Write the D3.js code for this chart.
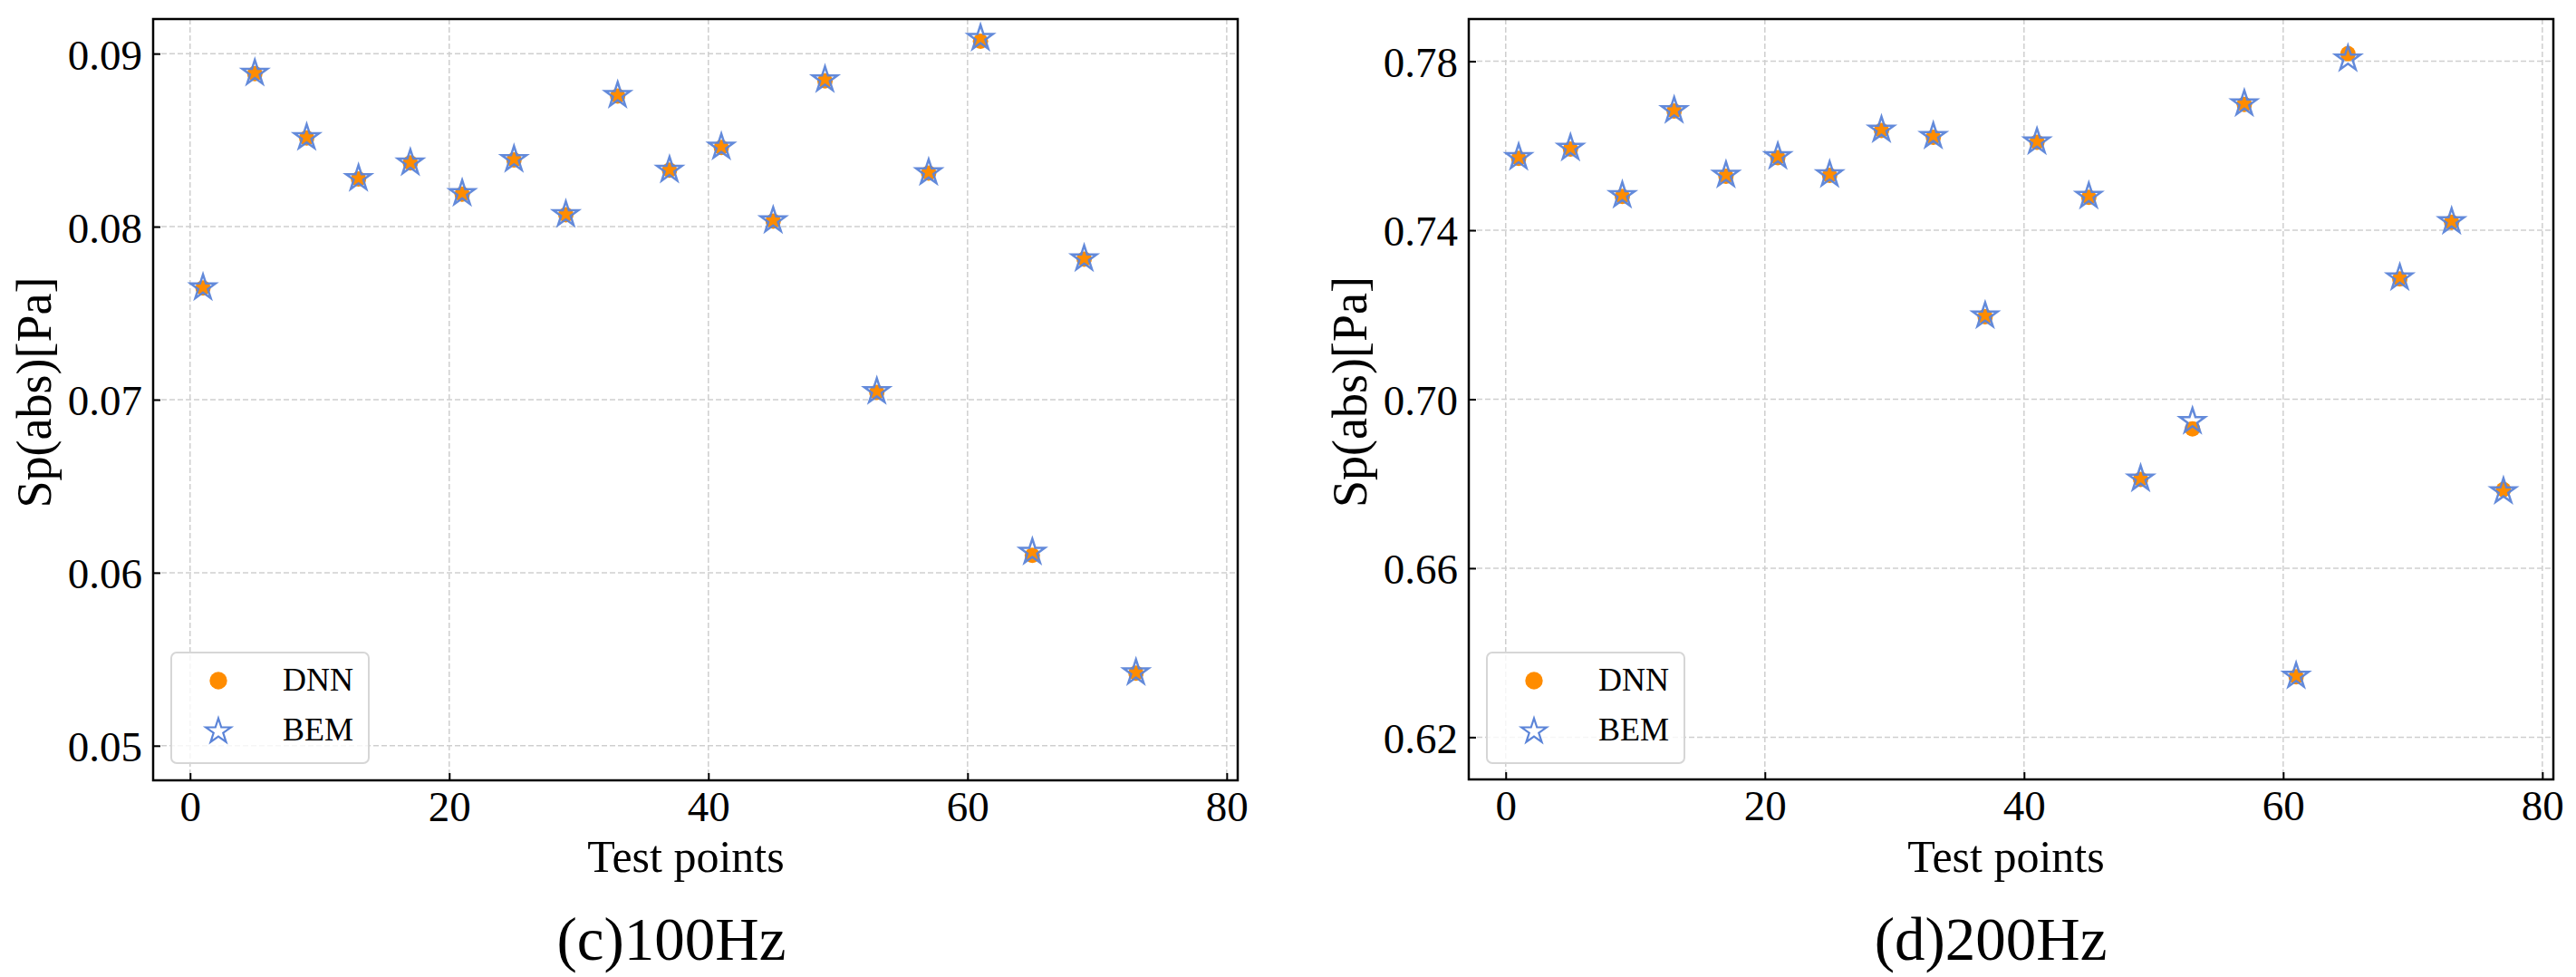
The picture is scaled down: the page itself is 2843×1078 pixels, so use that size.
<!DOCTYPE html>
<html>
<head>
<meta charset="utf-8">
<script src="https://cdn.jsdelivr.net/npm/d3@7"></script>
<style>
  html, body { margin: 0; padding: 0; background: #ffffff; }
  svg { display: block; }
  svg text { font-family: "Liberation Serif", "Times New Roman", serif !important; fill: #000; }
</style>
</head>
<body>
<svg id="chart" width="2843" height="1078"></svg>
<script>
// ---------------- DATA ----------------
const testPoints100 = [1, 5, 9, 13, 17, 21, 25, 29, 33, 37, 41, 45, 49, 53, 57, 61, 65, 69, 73];
const bem100 = [0.07648, 0.08888, 0.08516, 0.08280, 0.08370, 0.08193, 0.08390, 0.08071, 0.08760,
                0.08328, 0.08461, 0.08036, 0.08850, 0.07048, 0.08313, 0.09090, 0.06120, 0.07816, 0.05423];
const dnn100 = [0.07645, 0.08885, 0.08512, 0.08275, 0.08368, 0.08188, 0.08386, 0.08068, 0.08755,
                0.08326, 0.08458, 0.08032, 0.08843, 0.07042, 0.08310, 0.09072, 0.06100, 0.07812, 0.05420];

const testPoints200 = [1, 5, 9, 13, 17, 21, 25, 29, 33, 37, 41, 45, 49, 53, 57, 61, 65, 69, 73, 77];
const bem200 = [0.7573, 0.7595, 0.7483, 0.7684, 0.7531, 0.7575, 0.7532, 0.7638, 0.7623, 0.7198,
                0.7610, 0.7481, 0.6812, 0.6948, 0.7700, 0.6345, 0.7806, 0.7288, 0.7421, 0.6782];
const dnn200 = [0.7570, 0.7592, 0.7480, 0.7682, 0.7528, 0.7572, 0.7530, 0.7636, 0.7620, 0.7195,
                0.7608, 0.7478, 0.6810, 0.6930, 0.7698, 0.6343, 0.7818, 0.7285, 0.7419, 0.6786];

const xTicks = [0, 20, 40, 60, 80];
const yTicks100 = [0.05, 0.06, 0.07, 0.08, 0.09];
const yTicks200 = [0.62, 0.66, 0.70, 0.74, 0.78];
const seriesNames = ["DNN", "BEM"];
const panelTitles = ["(c)100Hz", "(d)200Hz"];
const xLabel = "Test points";
const yLabel = "Sp(abs)[Pa]";

// ---------------- STYLE ----------------
const FONT = '"Liberation Serif", "Times New Roman", serif';
const ORANGE = "#ff8c00";
const BLUE = "#5b84d8";
const GRID = "#cfcfcf";

const svg = d3.select("#chart");

const panels = [
  { x0: 169, x1: 1366, y0: 21, y1: 861, xDom: [-2.85, 80.85], yDom: [0.048, 0.092],
    xs: testPoints100, dnn: dnn100, bem: bem100, yTicks: yTicks100, fmt: d3.format(".2f"),
    title: panelTitles[0], titleX: 741, xlabX: 757 },
  { x0: 1621, x1: 2818, y0: 21, y1: 860, xDom: [-2.85, 80.85], yDom: [0.610, 0.790],
    xs: testPoints200, dnn: dnn200, bem: bem200, yTicks: yTicks200, fmt: d3.format(".2f"),
    title: panelTitles[1], titleX: 2197, xlabX: 2214 }
];

const starSym = d3.symbol().type(d3.symbolStar).size(236);

panels.forEach(p => {
  const x = d3.scaleLinear().domain(p.xDom).range([p.x0, p.x1]);
  const y = d3.scaleLinear().domain(p.yDom).range([p.y1, p.y0]);
  const g = svg.append("g").style("font-family", FONT);

  // grid
  g.append("g").selectAll("line").data(xTicks).join("line")
    .attr("x1", d => x(d)).attr("x2", d => x(d))
    .attr("y1", p.y0).attr("y2", p.y1)
    .attr("stroke", GRID).attr("stroke-width", 1.5).attr("stroke-dasharray", "6,3");
  g.append("g").selectAll("line").data(p.yTicks).join("line")
    .attr("x1", p.x0).attr("x2", p.x1)
    .attr("y1", d => y(d)).attr("y2", d => y(d))
    .attr("stroke", GRID).attr("stroke-width", 1.5).attr("stroke-dasharray", "6,3");

  // axes (ticks inward)
  const xAxis = d3.axisBottom(x).tickValues(xTicks).tickSizeInner(-8).tickSizeOuter(0).tickPadding(12).tickFormat(d3.format("d"));
  const yAxis = d3.axisLeft(y).tickValues(p.yTicks).tickSizeInner(-8).tickSizeOuter(0).tickPadding(12).tickFormat(p.fmt);
  const gx = g.append("g").attr("transform", `translate(0,${p.y1})`).call(xAxis);
  const gy = g.append("g").attr("transform", `translate(${p.x0},0)`).call(yAxis);
  [gx, gy].forEach(a => {
    a.attr("font-family", null).attr("font-size", null);
    a.select(".domain").remove();
    a.selectAll(".tick line").attr("stroke", "#000").attr("stroke-width", 2);
    a.selectAll(".tick text").style("font-family", FONT).style("font-size", "47px").attr("fill", "#000");
  });
  gx.selectAll(".tick text").attr("dy", "0.70em");
  gy.selectAll(".tick text").attr("dy", "0.36em");

  // frame
  g.append("rect").attr("x", p.x0).attr("y", p.y0)
    .attr("width", p.x1 - p.x0).attr("height", p.y1 - p.y0)
    .attr("fill", "none").attr("stroke", "#000").attr("stroke-width", 2.5);

  // data: DNN circles beneath BEM stars
  const pts = p.xs.map((v, i) => ({ x: v, dnn: p.dnn[i], bem: p.bem[i] }));
  g.append("g").selectAll("circle").data(pts).join("circle")
    .attr("cx", d => x(d.x)).attr("cy", d => y(d.dnn)).attr("r", 8.5)
    .attr("fill", ORANGE);
  g.append("g").selectAll("path").data(pts).join("path")
    .attr("d", starSym)
    .attr("transform", d => `translate(${x(d.x)},${y(d.bem)})`)
    .attr("fill", "none").attr("stroke", BLUE).attr("stroke-width", 2.5)
    .attr("stroke-opacity", 0.95);

  // legend
  const lx = p.x0 + 20, ly = 720;
  const lg = g.append("g");
  lg.append("rect").attr("x", lx).attr("y", ly).attr("width", 218).attr("height", 122)
    .attr("rx", 6).attr("ry", 6)
    .attr("fill", "#ffffff").attr("fill-opacity", 0.8)
    .attr("stroke", "#d6d6d6").attr("stroke-width", 2);
  lg.append("circle").attr("cx", lx + 52).attr("cy", ly + 31).attr("r", 9.7).attr("fill", ORANGE);
  lg.append("path").attr("d", starSym)
    .attr("transform", `translate(${lx + 52},${ly + 87})`)
    .attr("fill", "none").attr("stroke", BLUE).attr("stroke-width", 2.2);
  lg.selectAll("text").data(seriesNames).join("text")
    .attr("x", lx + 123).attr("y", (d, i) => ly + 42 + i * 55)
    .style("font-family", FONT).style("font-size", "36px").text(d => d);

  // labels
  g.append("text").attr("x", p.xlabX).attr("y", 962)
    .attr("text-anchor", "middle").style("font-family", FONT).style("font-size", "50px").text(xLabel);
  g.append("text")
    .attr("transform", `translate(${p.x0 - 113},${(p.y0 + p.y1) / 2 - 8}) rotate(-90)`)
    .attr("text-anchor", "middle").style("font-family", FONT).style("font-size", "54px").text(yLabel);
  g.append("text").attr("x", p.titleX).attr("y", 1059)
    .attr("text-anchor", "middle").style("font-family", FONT).style("font-size", "67px").text(p.title);
});
</script>
</body>
</html>
